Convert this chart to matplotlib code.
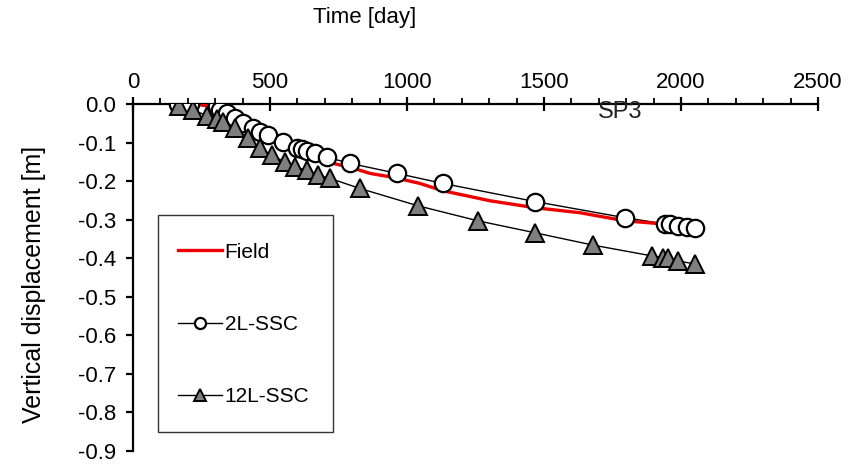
import matplotlib
matplotlib.use("Agg")
import matplotlib.pyplot as plt
from matplotlib.patches import Rectangle
from matplotlib.ticker import MultipleLocator

plt.rcParams['font.family'] = ['Liberation Sans', 'DejaVu Sans']
plt.rcParams['axes.unicode_minus'] = False

# settlement at SP3: measured (Field) and two simulations
field_day = [252, 307, 391, 500, 609, 730, 792, 865, 956, 1047, 1131, 1303, 1467, 1631, 1796, 1934]
field_disp = [-0.003, -0.008, -0.042, -0.081, -0.115, -0.154, -0.164, -0.180, -0.191, -0.206,
              -0.225, -0.251, -0.269, -0.282, -0.303, -0.311]

ssc2_day = [164, 208, 307, 318, 343, 372, 401, 438, 463, 493, 547, 599, 617, 635, 664, 708,
            792, 964, 1131, 1467, 1796, 1942, 1960, 1989, 2022, 2051]
ssc2_disp = [0.0, 0.0, -0.005, -0.016, -0.023, -0.037, -0.050, -0.063, -0.073, -0.081, -0.099,
             -0.115, -0.117, -0.123, -0.128, -0.138, -0.154, -0.180, -0.206, -0.253, -0.295,
             -0.311, -0.311, -0.316, -0.318, -0.321]

ssc12_day = [168, 219, 270, 307, 328, 372, 420, 463, 507, 555, 591, 635, 675, 719, 828, 1040,
             1259, 1467, 1679, 1894, 1934, 1953, 1989, 2051]
ssc12_disp = [-0.005, -0.016, -0.030, -0.038, -0.047, -0.063, -0.089, -0.115, -0.133, -0.151,
              -0.164, -0.172, -0.185, -0.193, -0.219, -0.264, -0.303, -0.334, -0.366, -0.394,
              -0.399, -0.399, -0.407, -0.415]

W, H = 859, 465
fig = plt.figure(figsize=(W / 100, H / 100), dpi=100)
ax = fig.add_axes([133 / W, 1 - 451 / H, 685 / W, 347 / H])

ax.plot(ssc2_day, ssc2_disp, color='black', lw=1.0, zorder=2)
ax.plot(ssc12_day, ssc12_disp, color='black', lw=1.0, zorder=2)
ax.plot(field_day, field_disp, color='#ee0000', lw=2.4, zorder=3)
ax.plot(ssc2_day, ssc2_disp, ls='none', marker='o', ms=12.5, mfc='white', mec='black',
        mew=1.6, zorder=4)
ax.plot(ssc12_day, ssc12_disp, ls='none', marker='^', ms=12.5, mfc='#7f7f7f', mec='black',
        mew=1.4, zorder=5)

# legend frame drawn separately so its size can be set directly
ax.add_patch(Rectangle((158 / W, 1 - 432 / H), 175 / W, 217 / H,
                       transform=fig.transFigure, facecolor='white',
                       edgecolor='#333333', lw=1.0, zorder=6, clip_on=False))

h_field, = ax.plot([], [], color='#ee0000', lw=2.4, label='Field')
h_2l, = ax.plot([], [], color='black', lw=1.0, marker='o', ms=8, mfc='white', mec='black',
                mew=1.6, label='2L-SSC')
h_12l, = ax.plot([], [], color='black', lw=1.0, marker='^', ms=8, mfc='#7f7f7f', mec='black',
                 mew=1.4, label='12L-SSC')
leg = ax.legend(handles=[h_field, h_2l, h_12l], loc='upper left',
                bbox_to_anchor=(158 / W, 1 - 223 / H), bbox_transform=fig.transFigure,
                fontsize=15, frameon=False, labelspacing=2.55,
                borderpad=0.95, handlelength=2.1, handletextpad=0.15, borderaxespad=0)
leg.set_zorder(7)

ax.set_xlim(0, 2500)
ax.set_ylim(-0.9, 0.0)
ax.xaxis.set_major_locator(MultipleLocator(500))
ax.xaxis.set_minor_locator(MultipleLocator(100))
ax.yaxis.set_major_locator(MultipleLocator(0.1))
ax.yaxis.set_major_formatter(matplotlib.ticker.FormatStrFormatter('%.1f'))
ax.xaxis.tick_top()
ax.xaxis.set_label_position('top')

for side in ['bottom', 'right']:
    ax.spines[side].set_visible(False)
for side in ['top', 'left']:
    ax.spines[side].set_linewidth(1.6)

ax.tick_params(axis='x', which='major', direction='inout', length=10, width=1.6,
               labelsize=16, pad=3)
ax.tick_params(axis='x', which='minor', direction='out', length=4, width=1.3)
ax.tick_params(axis='y', which='major', direction='out', length=5, width=1.6,
               labelsize=16, pad=7)

ax.text(1777, -0.02, 'SP3', fontsize=17, ha='center', va='center', color='#222222')

fig.text(365 / W, 1 - 18 / H, 'Time [day]', fontsize=16, ha='center', va='center')
fig.text(34 / W, 1 - 284 / H, 'Vertical displacement [m]', fontsize=18,
         rotation=90, ha='center', va='center')

fig.savefig('out.png', dpi=100)
